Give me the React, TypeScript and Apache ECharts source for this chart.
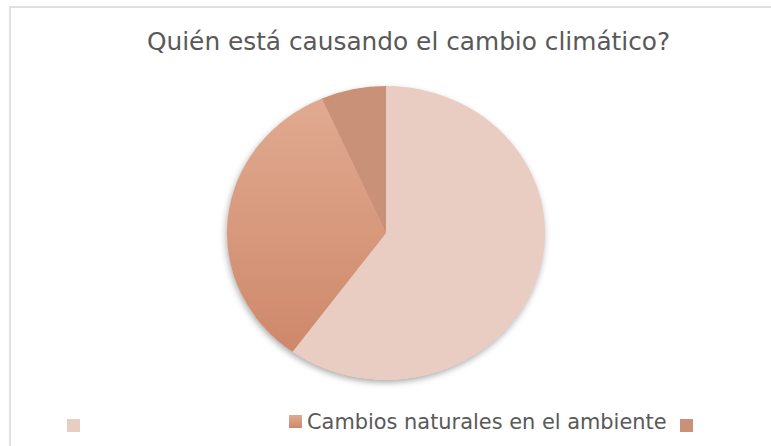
import React, { useEffect, useRef } from "react";
import * as echarts from "echarts";

const titleText = "Quién está causando el cambio climático?";
const categories = [" ", "Cambios naturales en el ambiente", "  "];
const values = [60, 33.4, 6.6];
const colors = ["#eacdc2", "#d99a7d", "#c99177"];

const FONT = "'DejaVu Sans', Verdana, sans-serif";

export default function App() {
  const refA = useRef<HTMLDivElement>(null);
  const refB = useRef<HTMLDivElement>(null);

  useEffect(() => {
    if (!refA.current || !refB.current) return;
    const chartA = echarts.init(refA.current, undefined, { renderer: "svg" });
    const chartB = echarts.init(refB.current, undefined, { renderer: "svg" });

    const midGradient = {
      type: "linear",
      x: 0,
      y: 0,
      x2: 0,
      y2: 1,
      colorStops: [
        { offset: 0, color: "#e1aa90" },
        { offset: 1, color: "#ce886a" },
      ],
    };
    const itemColors: any[] = [colors[0], midGradient, colors[2]];

    const pieData = categories.map((name, i) => ({
      name,
      value: values[i],
      itemStyle: { color: itemColors[i] },
    }));

    const legendLefts = [67, 289, 680];

    chartA.setOption({
      animation: false,
      backgroundColor: "#ffffff",
      title: {
        text: titleText,
        left: 147,
        top: 29,
        padding: 0,
        textStyle: {
          fontFamily: FONT,
          fontSize: 24.8,
          fontWeight: "normal",
          color: "#595959",
        },
      },
      legend: categories.map((name, i) => ({
        data: [name],
        left: legendLefts[i],
        top: i === 1 ? 411 : 415,
        padding: 0,
        itemWidth: 13,
        itemHeight: 13,
        itemGap: 5,
        icon: "rect",
        selectedMode: false,
        textStyle: {
          fontFamily: FONT,
          fontSize: 20.9,
          color: "#595959",
        },
      })),
      graphic: [
        {
          type: "rect",
          shape: { x: 10, y: 7, width: 800, height: 480 },
          style: { fill: "none", stroke: "#e0e0e0", lineWidth: 2 },
          silent: true,
        },
      ],
      series: [
        {
          type: "pie",
          center: [386, 233],
          radius: [0, 0],
          silent: true,
          label: { show: false },
          labelLine: { show: false },
          data: pieData,
        },
      ],
    });

    chartB.setOption({
      animation: false,
      graphic: [
        {
          type: "circle",
          z: 0,
          shape: { cx: 386, cy: 233, r: 158.5 },
          style: {
            fill: "#e3b9a7",
            shadowBlur: 7,
            shadowOffsetX: -1,
            shadowOffsetY: 3,
            shadowColor: "rgba(0,0,0,0.35)",
          },
          silent: true,
        },
      ],
      series: [
        {
          type: "pie",
          z: 2,
          center: [386, 233],
          radius: [0, 159],
          startAngle: 90,
          clockwise: true,
          silent: true,
          label: { show: false },
          labelLine: { show: false },
          itemStyle: { borderWidth: 0 },
          data: pieData,
        },
      ],
    });

    return () => {
      chartA.dispose();
      chartB.dispose();
    };
  }, []);

  return (
    <div
      style={{
        position: "fixed",
        left: 0,
        top: 0,
        width: 771,
        height: 446,
        background: "#ffffff",
        overflow: "hidden",
      }}
    >
      <div
        ref={refA}
        style={{ position: "absolute", left: 0, top: 0, width: 771, height: 446 }}
      />
      <div
        ref={refB}
        style={{
          position: "absolute",
          left: 0,
          top: 0,
          width: 771,
          height: 446,
          transform: "scaleY(0.924)",
          transformOrigin: "0px 233px",
          pointerEvents: "none",
        }}
      />
    </div>
  );
}
